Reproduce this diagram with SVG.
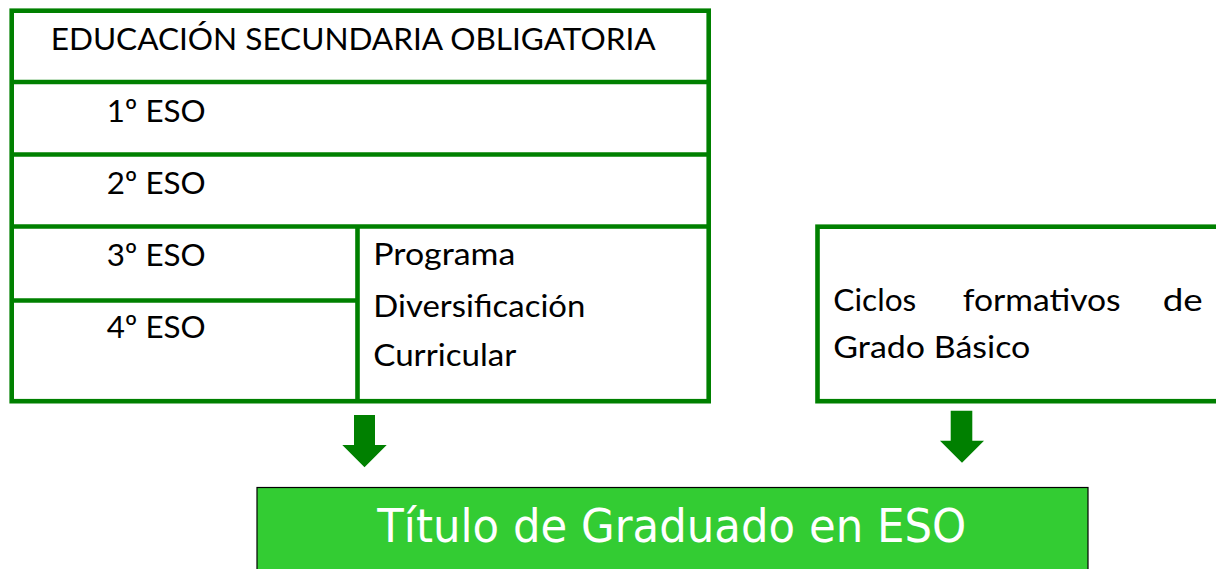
<svg xmlns="http://www.w3.org/2000/svg" width="1216" height="569" viewBox="0 0 1216 569">
<style>
.frame{fill:#fff;stroke:#008000;stroke-width:4.6}
.ln{stroke:#008000;stroke-width:4.6;fill:none}
.t{font-family:Lato,"Open Sans","Liberation Sans",sans-serif;font-size:31.5px;fill:#000}
.arrow{fill:#008000}
.title{font-family:"DejaVu Sans",Verdana,sans-serif;font-size:46px;fill:#fff}
</style>
<rect width="1216" height="569" fill="#fff"/>
<g id="eso-table">
<rect class="frame" x="11.7" y="10.7" width="697" height="390.5"/>
<line class="ln" x1="11.7" y1="82" x2="708.7" y2="82"/>
<line class="ln" x1="11.7" y1="154.5" x2="708.7" y2="154.5"/>
<line class="ln" x1="11.7" y1="226.5" x2="708.7" y2="226.5"/>
<line class="ln" x1="11.7" y1="300.5" x2="357.5" y2="300.5"/>
<line class="ln" x1="357.5" y1="226.5" x2="357.5" y2="401.2"/>
<text class="t" x="50.7" y="50" textLength="605" lengthAdjust="spacingAndGlyphs">EDUCACIÓN  SECUNDARIA OBLIGATORIA</text>
<text class="t" x="106.7" y="122" textLength="99" lengthAdjust="spacingAndGlyphs">1º ESO</text>
<text class="t" x="106.7" y="194" textLength="99" lengthAdjust="spacingAndGlyphs">2º ESO</text>
<text class="t" x="106.7" y="265.7" textLength="99" lengthAdjust="spacingAndGlyphs">3º ESO</text>
<text class="t" x="106.7" y="337.7" textLength="99" lengthAdjust="spacingAndGlyphs">4º ESO</text>
<text class="t" x="373.3" y="265" textLength="142" lengthAdjust="spacingAndGlyphs">Programa</text>
<text class="t" x="373.3" y="316.7" textLength="212" lengthAdjust="spacingAndGlyphs">Diversificación</text>
<text class="t" x="373.3" y="366" textLength="143" lengthAdjust="spacingAndGlyphs">Curricular</text>
</g>
<g id="ciclos">
<rect class="frame" x="817.5" y="226.7" width="410" height="174.5"/>
<text class="t" x="833.3" y="310.7" textLength="83" lengthAdjust="spacingAndGlyphs">Ciclos</text>
<text class="t" x="962.7" y="310.7" textLength="158" lengthAdjust="spacingAndGlyphs">formativos</text>
<text class="t" x="1162.7" y="310.7" textLength="40" lengthAdjust="spacingAndGlyphs">de</text>
<text class="t" x="833.3" y="358.3" textLength="197" lengthAdjust="spacingAndGlyphs">Grado Básico</text>
</g>
<g id="connectors">
<polygon class="arrow" points="354,415 375,415 375,445 386.7,445 364.5,467.3 342.3,445 354,445"/>
<polygon class="arrow" points="950.7,410.7 972.3,410.7 972.3,440.7 984,440.7 962,462.7 940,440.7 950.7,440.7"/>
</g>
<g id="titulo">
<rect x="257" y="487.5" width="831" height="100" fill="#33cc33" stroke="#000" stroke-width="1.2"/>
<text class="title" x="377.3" y="541.7" textLength="589" lengthAdjust="spacingAndGlyphs">Título de Graduado en ESO</text>
</g>
</svg>
